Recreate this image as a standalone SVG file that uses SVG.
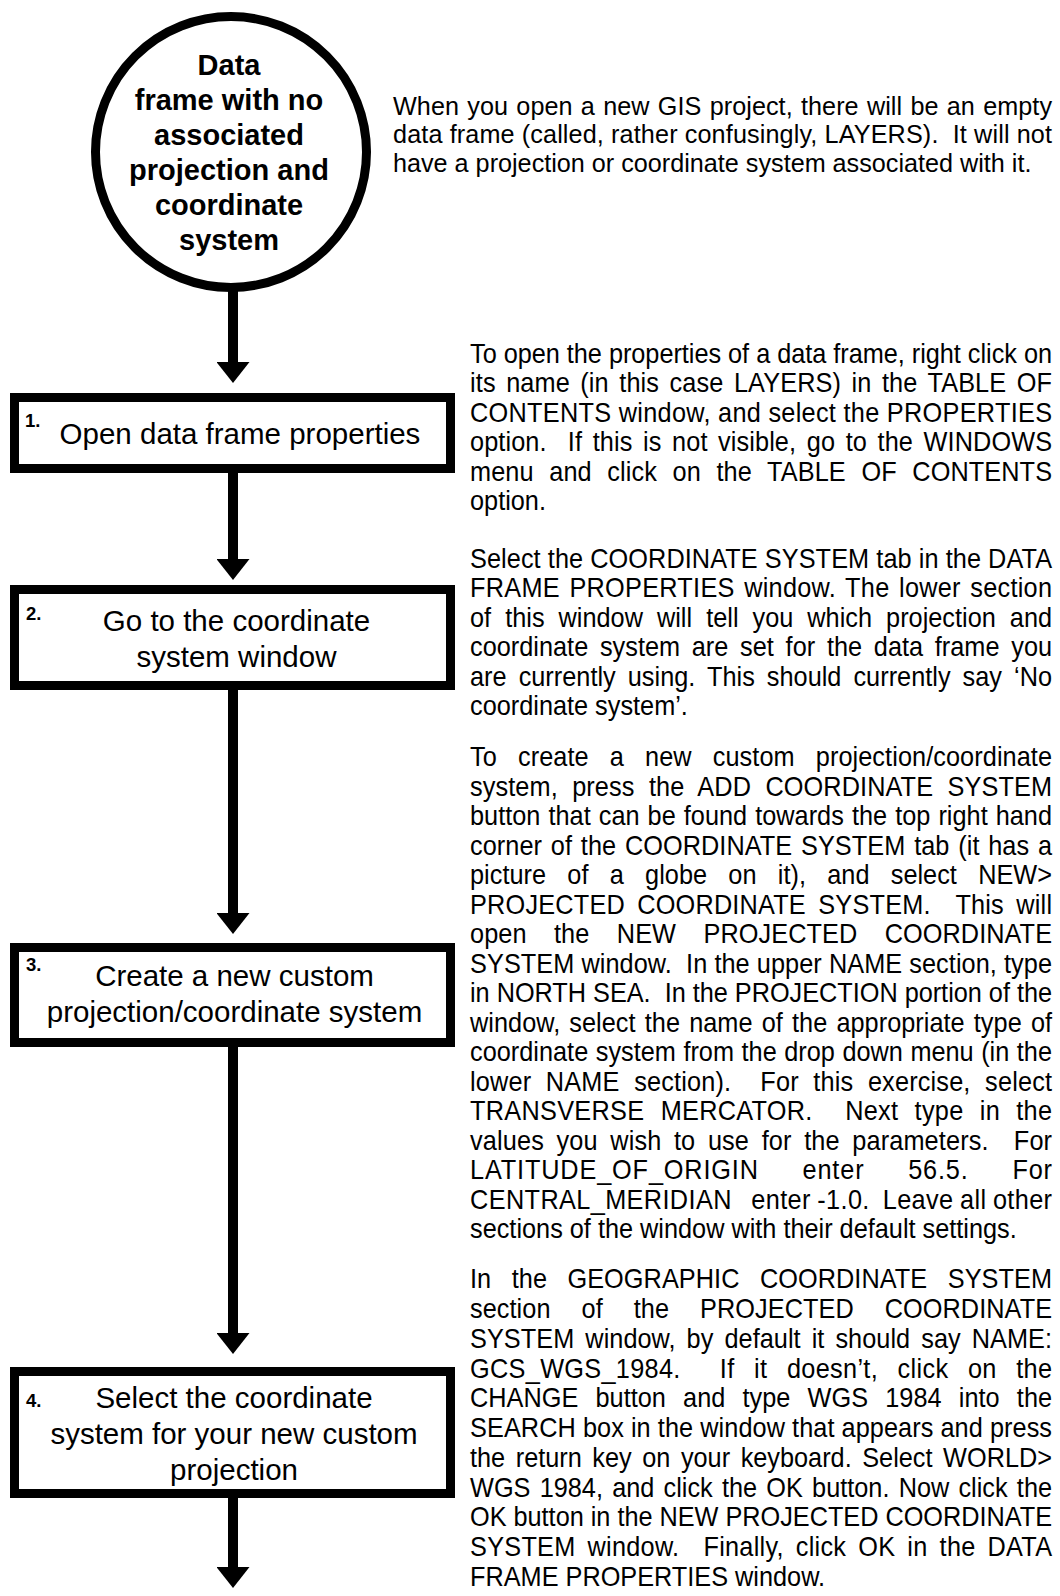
<svg xmlns="http://www.w3.org/2000/svg" width="1060" height="1596" viewBox="0 0 1060 1596">
  <style>
    .shape { fill: #ffffff; stroke: #000000; stroke-width: 9; }
    .title { font-family: "Liberation Sans", Arial, sans-serif; font-size: 29px; font-weight: bold; fill: #000; text-anchor: middle; }
    .step { font-family: "Liberation Sans", Arial, sans-serif; font-size: 29.5px; fill: #000; text-anchor: middle; }
    .num { font-family: "Liberation Sans", Arial, sans-serif; font-size: 18.5px; font-weight: bold; fill: #000; }
    .note { font-family: "Liberation Sans", Arial, sans-serif; font-size: 27.5px; fill: #000; }
    .lead { font-family: "Liberation Sans", Arial, sans-serif; font-size: 25.2px; fill: #000; }
    .shaft { stroke: #000; stroke-width: 10; fill: none; marker-end: url(#head); }
  </style>
  <defs>
    <marker id="head" viewBox="0 0 21 33" refX="0" refY="16.5" markerUnits="userSpaceOnUse" markerWidth="21" markerHeight="33" orient="auto">
      <path d="M0,0 L21,16.5 L0,33 Z" fill="#000"/>
    </marker>
  </defs>
  <rect width="1060" height="1596" fill="#ffffff"/>

  <!-- flow connectors -->
  <g id="connectors">
    <line class="shaft" x1="233" y1="288" x2="233" y2="362"/>
    <line class="shaft" x1="233" y1="473" x2="233" y2="559"/>
    <line class="shaft" x1="233" y1="690" x2="233" y2="913"/>
    <line class="shaft" x1="233" y1="1047" x2="233" y2="1333"/>
    <line class="shaft" x1="233" y1="1498" x2="233" y2="1567"/>
  </g>

  <!-- start state -->
  <g id="node-start">
    <circle class="shape" cx="231" cy="152" r="135.5"/>
    <text class="title" x="229" y="74.5">Data</text>
    <text class="title" x="229" y="109.5">frame with no</text>
    <text class="title" x="229" y="144.5">associated</text>
    <text class="title" x="229" y="179.5">projection and</text>
    <text class="title" x="229" y="214.5">coordinate</text>
    <text class="title" x="229" y="249.5">system</text>
  </g>

  <g id="node-1">
    <rect class="shape" x="14.5" y="397.5" width="436" height="71"/>
    <text class="num" x="25" y="427">1.</text>
    <text class="step" x="240" y="444">Open data frame properties</text>
  </g>

  <g id="node-2">
    <rect class="shape" x="14.5" y="589.5" width="436" height="96"/>
    <text class="num" x="26" y="620">2.</text>
    <text class="step" x="236.5" y="631">Go to the coordinate</text>
    <text class="step" x="236.5" y="667">system window</text>
  </g>

  <g id="node-3">
    <rect class="shape" x="14.5" y="947.5" width="436" height="95"/>
    <text class="num" x="26" y="971">3.</text>
    <text class="step" x="234.5" y="986">Create a new custom</text>
    <text class="step" x="234.5" y="1022">projection/coordinate system</text>
  </g>

  <g id="node-4">
    <rect class="shape" x="14.5" y="1371.5" width="436" height="122"/>
    <text class="num" x="26" y="1407">4.</text>
    <text class="step" x="234" y="1408">Select the coordinate</text>
    <text class="step" x="234" y="1444">system for your new custom</text>
    <text class="step" x="234" y="1480">projection</text>
  </g>

  <!-- explanatory notes -->
  <g id="note-start" class="lead">
    <text x="393" y="114.5" textLength="659" lengthAdjust="spacing" word-spacing="1.2">When you open a new GIS project, there will be an empty</text>
    <text x="393" y="143" textLength="659" lengthAdjust="spacing">data frame (called, rather confusingly, LAYERS). &#160;It will not</text>
    <text x="393" y="171.5">have a projection or coordinate system associated with it.</text>
  </g>

  <!-- body notes: narrow face, set at 92% width -->
  <g id="note-1" class="note" transform="scale(0.92,1)">
    <text x="510.9" y="363" textLength="632.6" lengthAdjust="spacing">To open the properties of a data frame, right click on</text>
    <text x="510.9" y="392.5" textLength="632.6" lengthAdjust="spacing" word-spacing="3.7">its name (in this case LAYERS) in the TABLE OF</text>
    <text x="510.9" y="422" textLength="632.6" lengthAdjust="spacing">CONTENTS window, and select the PROPERTIES</text>
    <text x="510.9" y="451.5" textLength="632.6" lengthAdjust="spacing" word-spacing="3.8">option. &#160;If this is not visible, go to the WINDOWS</text>
    <text x="510.9" y="481" textLength="632.6" lengthAdjust="spacing" word-spacing="9.3">menu and click on the TABLE OF CONTENTS</text>
    <text x="510.9" y="510.5">option.</text>
  </g>

  <g id="note-2" class="note" transform="scale(0.92,1)">
    <text x="510.9" y="568" textLength="632.6" lengthAdjust="spacing">Select the COORDINATE SYSTEM tab in the DATA</text>
    <text x="510.9" y="597.5" textLength="632.6" lengthAdjust="spacing" word-spacing="2.4">FRAME PROPERTIES window. The lower section</text>
    <text x="510.9" y="627" textLength="632.6" lengthAdjust="spacing" word-spacing="7.6">of this window will tell you which projection and</text>
    <text x="510.9" y="656.5" textLength="632.6" lengthAdjust="spacing" word-spacing="5.1">coordinate system are set for the data frame you</text>
    <text x="510.9" y="686" textLength="632.6" lengthAdjust="spacing" word-spacing="5.4">are currently using. This should currently say ‘No</text>
    <text x="510.9" y="715.5">coordinate system’.</text>
  </g>

  <g id="note-3" class="note" transform="scale(0.92,1)">
    <text x="510.9" y="766.5" textLength="632.6" lengthAdjust="spacing" word-spacing="15.2">To create a new custom projection/coordinate</text>
    <text x="510.9" y="796" textLength="632.6" lengthAdjust="spacing" word-spacing="7.9">system, press the ADD COORDINATE SYSTEM</text>
    <text x="510.9" y="825.5" textLength="632.6" lengthAdjust="spacing" word-spacing="1.1">button that can be found towards the top right hand</text>
    <text x="510.9" y="855" textLength="632.6" lengthAdjust="spacing" word-spacing="1.8">corner of the COORDINATE SYSTEM tab (it has a</text>
    <text x="510.9" y="884.5" textLength="632.6" lengthAdjust="spacing" word-spacing="15.5">picture of a globe on it), and select NEW&gt;</text>
    <text x="510.9" y="914" textLength="632.6" lengthAdjust="spacing" word-spacing="5.6">PROJECTED COORDINATE SYSTEM. &#160;This will</text>
    <text x="510.9" y="943.5" textLength="632.6" lengthAdjust="spacing" word-spacing="22.2">open the NEW PROJECTED COORDINATE</text>
    <text x="510.9" y="973" textLength="632.6" lengthAdjust="spacing">SYSTEM window. &#160;In the upper NAME section, type</text>
    <text x="510.9" y="1002.5" textLength="632.6" lengthAdjust="spacing">in NORTH SEA. &#160;In the PROJECTION portion of the</text>
    <text x="510.9" y="1032" textLength="632.6" lengthAdjust="spacing" word-spacing="2.3">window, select the name of the appropriate type of</text>
    <text x="510.9" y="1061.5" textLength="632.6" lengthAdjust="spacing" word-spacing="0.5">coordinate system from the drop down menu (in the</text>
    <text x="510.9" y="1091" textLength="632.6" lengthAdjust="spacing" word-spacing="8">lower NAME section). &#160;For this exercise, select</text>
    <text x="510.9" y="1120.5" textLength="632.6" lengthAdjust="spacing" word-spacing="9.7">TRANSVERSE MERCATOR. &#160;Next type in the</text>
    <text x="510.9" y="1150" textLength="632.6" lengthAdjust="spacing" word-spacing="5.9">values you wish to use for the parameters. &#160;For</text>
    <text x="510.9" y="1179.5" textLength="632.6" lengthAdjust="spacing" word-spacing="39">LATITUDE_OF_ORIGIN enter 56.5. For</text>
    <text x="510.9" y="1209" textLength="632.6" lengthAdjust="spacing" word-spacing="-1">CENTRAL_MERIDIAN &#160;&#160;enter -1.0. &#160;Leave all other</text>
    <text x="510.9" y="1238.5">sections of the window with their default settings.</text>
  </g>

  <g id="note-4" class="note" transform="scale(0.92,1)">
    <text x="510.9" y="1288.5" textLength="632.6" lengthAdjust="spacing" word-spacing="14.5">In the GEOGRAPHIC COORDINATE SYSTEM</text>
    <text x="510.9" y="1318.2" textLength="632.6" lengthAdjust="spacing" word-spacing="26">section of the PROJECTED COORDINATE</text>
    <text x="510.9" y="1348" textLength="632.6" lengthAdjust="spacing" word-spacing="4.3">SYSTEM window, by default it should say NAME:</text>
    <text x="510.9" y="1377.7" textLength="632.6" lengthAdjust="spacing" word-spacing="13.3">GCS_WGS_1984. &#160;If it doesn’t, click on the</text>
    <text x="510.9" y="1407.5" textLength="632.6" lengthAdjust="spacing" word-spacing="11.1">CHANGE button and type WGS 1984 into the</text>
    <text x="510.9" y="1437.2" textLength="632.6" lengthAdjust="spacing">SEARCH box in the window that appears and press</text>
    <text x="510.9" y="1467" textLength="632.6" lengthAdjust="spacing" word-spacing="3.8">the return key on your keyboard. Select WORLD&gt;</text>
    <text x="510.9" y="1496.7" textLength="632.6" lengthAdjust="spacing" word-spacing="2.4">WGS 1984, and click the OK button. Now click the</text>
    <text x="510.9" y="1526.5" textLength="632.6" lengthAdjust="spacing">OK button in the NEW PROJECTED COORDINATE</text>
    <text x="510.9" y="1556.2" textLength="632.6" lengthAdjust="spacing" word-spacing="5.2">SYSTEM window. &#160;Finally, click OK in the DATA</text>
    <text x="510.9" y="1586">FRAME PROPERTIES window.</text>
  </g>
</svg>
